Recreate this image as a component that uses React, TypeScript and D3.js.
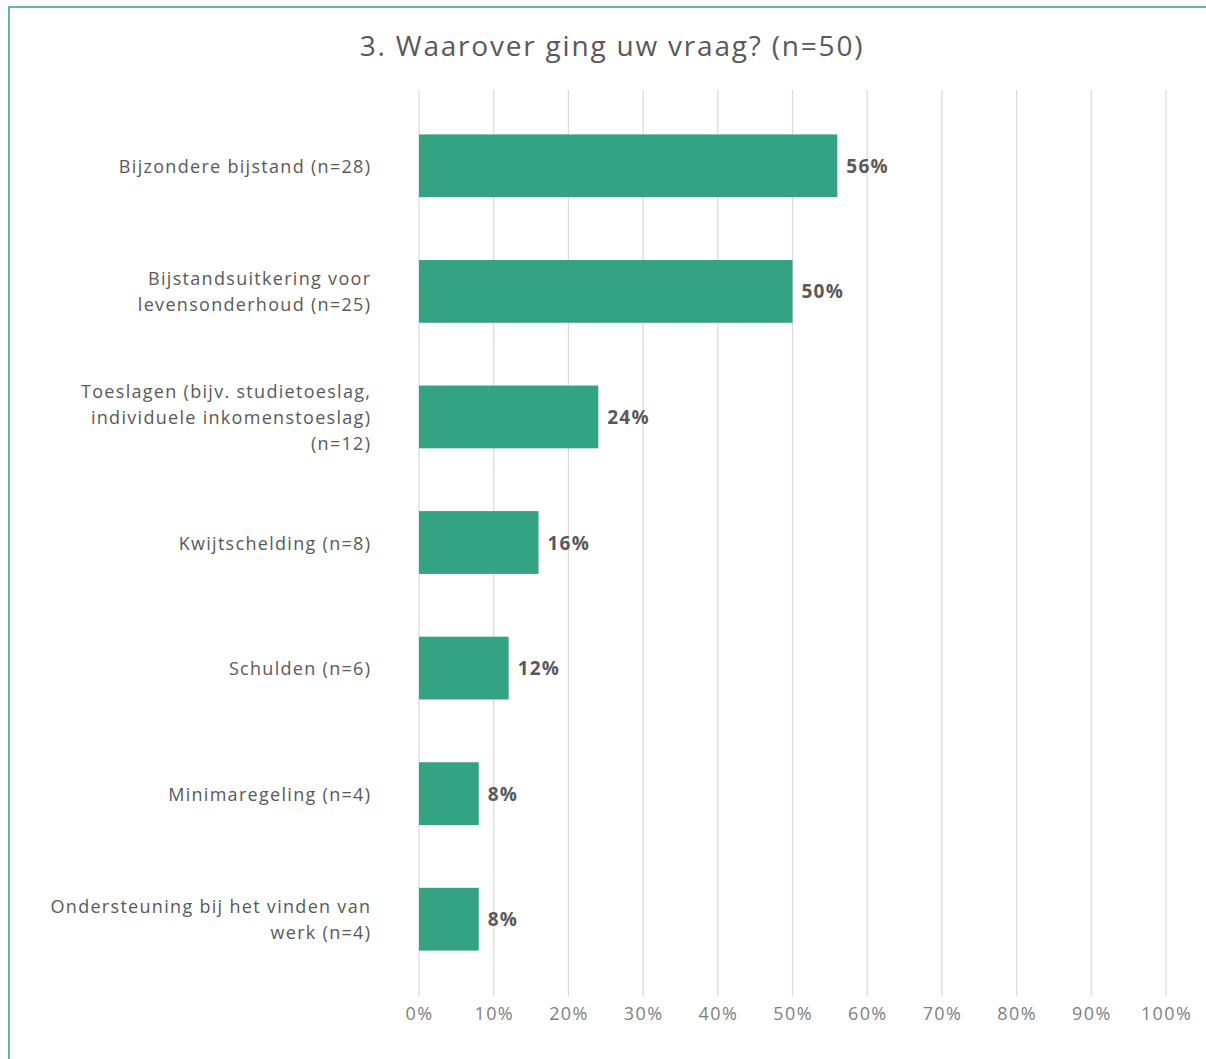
import * as d3 from 'd3';

const categories = [
  ['Bijzondere bijstand (n=28)'],
  ['Bijstandsuitkering voor', 'levensonderhoud (n=25)'],
  ['Toeslagen (bijv. studietoeslag,', 'individuele inkomenstoeslag)', '(n=12)'],
  ['Kwijtschelding (n=8)'],
  ['Schulden (n=6)'],
  ['Minimaregeling (n=4)'],
  ['Ondersteuning bij het vinden van', 'werk (n=4)'],
];
const values = [56, 50, 24, 16, 12, 8, 8];
const ticks = [0, 10, 20, 30, 40, 50, 60, 70, 80, 90, 100];
const title = '3. Waarover ging uw vraag? (n=50)';

const W = 1206;
const H = 1059;
const font = '"Open Sans", "Noto Sans", sans-serif';
const grey = '#595959';

export default function App() {
  const x = d3.scaleLinear().domain([0, 100]).range([419, 1166]);
  const y = d3
    .scaleBand()
    .domain(categories.map((_, i) => String(i)))
    .range([103, 982])
    .paddingInner(0.5)
    .paddingOuter(0.25);

  return (
    <svg
      width={W}
      height={H}
      style={{ position: 'absolute', left: 0, top: 0, background: '#fff' }}
    >
      <rect x={9} y={7} width={W + 10} height={H + 10} fill="#fff" stroke="#5fb8a0" strokeWidth={2} />
      <text
        x={612}
        y={56}
        textAnchor="middle"
        fontFamily={font}
        fontSize={28}
        letterSpacing={1.8}
        fill={grey}
      >
        {title}
      </text>
      {ticks.map((t) => (
        <g key={t}>
          <line x1={x(t)} x2={x(t)} y1={90} y2={996} stroke="#d9d9d9" strokeWidth={1.2} />
          <text
            x={x(t) + 0.6}
            y={1020}
            textAnchor="middle"
            fontFamily={font}
            fontSize={18}
            letterSpacing={1.4}
            fill="#7f7f7f"
          >
            {t}%
          </text>
        </g>
      ))}
      {values.map((v, i) => {
        const y0 = y(String(i))!;
        const cy = y0 + y.bandwidth() / 2;
        const lines = categories[i];
        const lh = 26;
        return (
          <g key={i}>
            <rect x={x(0)} y={y0} width={x(v) - x(0)} height={y.bandwidth()} fill="#33a383" />
            <text
              x={x(v) + 9}
              y={cy + 7}
              fontFamily={font}
              fontSize={19}
              fontWeight="bold"
              letterSpacing={1.2}
              fill={grey}
            >
              {v}%
            </text>
            {lines.map((l, j) => (
              <text
                key={j}
                x={371.3}
                y={cy + 7 + (j - (lines.length - 1) / 2) * lh}
                textAnchor="end"
                fontFamily={font}
                fontSize={18}
                letterSpacing={1.3}
                fill={grey}
              >
                {l}
              </text>
            ))}
          </g>
        );
      })}
    </svg>
  );
}
